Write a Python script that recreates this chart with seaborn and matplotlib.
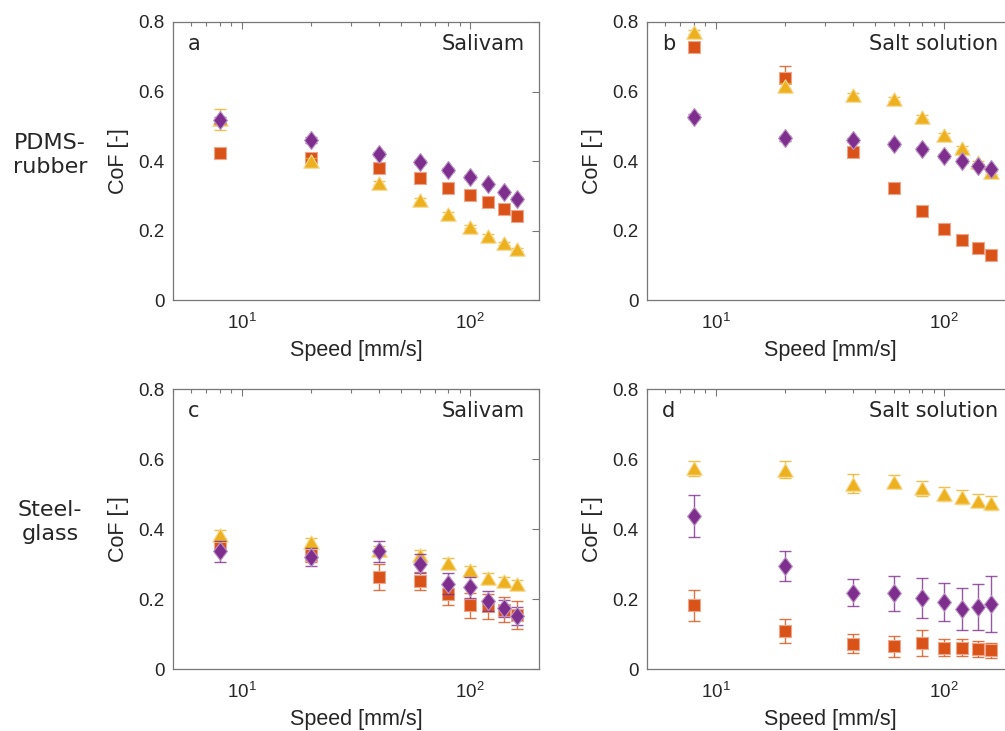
import numpy as np
import pandas as pd
import matplotlib
matplotlib.use("Agg")
import matplotlib.pyplot as plt
import seaborn as sns
from matplotlib.ticker import LogLocator, NullFormatter

sns.set_theme(style="white")
plt.rcParams['font.family'] = ['Liberation Sans', 'DejaVu Sans']
plt.rcParams['mathtext.fontset'] = 'custom'
plt.rcParams['mathtext.rm'] = 'Liberation Sans'

speed = [8, 20, 40, 60, 80, 100, 120, 140, 160]

# Panel a: PDMS-rubber, Salivam
a_sq = [0.424, 0.410, 0.379, 0.352, 0.323, 0.303, 0.283, 0.263, 0.242]
a_sq_err = [0.008, 0.008, 0.006, 0.006, 0.006, 0.005, 0.005, 0.005, 0.005]
a_tri = [0.520, 0.400, 0.336, 0.288, 0.247, 0.211, 0.184, 0.163, 0.146]
a_tri_err = [0.030, 0.008, 0.006, 0.006, 0.005, 0.005, 0.005, 0.005, 0.005]
a_dia = [0.518, 0.460, 0.420, 0.396, 0.374, 0.354, 0.333, 0.310, 0.290]
a_dia_err = [0.010, 0.008, 0.006, 0.006, 0.006, 0.005, 0.005, 0.005, 0.005]

# Panel b: PDMS-rubber, Salt solution
b_sq = [0.727, 0.640, 0.426, 0.323, 0.257, 0.205, 0.173, 0.149, 0.130]
b_sq_err = [0.008, 0.034, 0.008, 0.006, 0.006, 0.005, 0.005, 0.005, 0.005]
b_tri = [0.772, 0.616, 0.590, 0.578, 0.526, 0.475, 0.437, 0.396, 0.367]
b_tri_err = [0.006, 0.008, 0.006, 0.006, 0.006, 0.005, 0.005, 0.005, 0.005]
b_dia = [0.528, 0.465, 0.460, 0.448, 0.434, 0.415, 0.400, 0.387, 0.376]
b_dia_err = [0.008, 0.008, 0.006, 0.006, 0.006, 0.005, 0.005, 0.005, 0.005]

# Panel c: Steel-glass, Salivam
c_sq = [0.354, 0.325, 0.263, 0.251, 0.214, 0.182, 0.179, 0.170, 0.154]
c_sq_err = [0.020, 0.020, 0.037, 0.025, 0.032, 0.035, 0.035, 0.037, 0.040]
c_tri = [0.384, 0.363, 0.340, 0.327, 0.304, 0.282, 0.261, 0.252, 0.244]
c_tri_err = [0.012, 0.012, 0.012, 0.012, 0.012, 0.012, 0.012, 0.010, 0.010]
c_dia = [0.337, 0.320, 0.337, 0.301, 0.244, 0.233, 0.195, 0.173, 0.151]
c_dia_err = [0.030, 0.026, 0.030, 0.028, 0.030, 0.030, 0.028, 0.025, 0.025]

# Panel d: Steel-glass, Salt solution
d_sq = [0.182, 0.108, 0.072, 0.065, 0.075, 0.061, 0.061, 0.057, 0.053]
d_sq_err = [0.044, 0.034, 0.027, 0.030, 0.037, 0.025, 0.025, 0.023, 0.022]
d_tri = [0.573, 0.570, 0.530, 0.535, 0.516, 0.499, 0.492, 0.481, 0.475]
d_tri_err = [0.022, 0.024, 0.026, 0.019, 0.022, 0.020, 0.020, 0.019, 0.020]
d_dia = [0.437, 0.295, 0.218, 0.216, 0.203, 0.192, 0.171, 0.177, 0.187]
d_dia_err = [0.061, 0.043, 0.038, 0.050, 0.058, 0.055, 0.060, 0.065, 0.080]

panel_letters = ["a", "b", "c", "d"]
panel_titles = ["Salivam", "Salt solution", "Salivam", "Salt solution"]
row_labels = ["PDMS-\nrubber", "Steel-\nglass"]
y_ticks = [0, 0.2, 0.4, 0.6, 0.8]
y_ticklabels = ["0", "0.2", "0.4", "0.6", "0.8"]

colors = {"sq": "#D95319", "tri": "#EDB120", "dia": "#7E2F8E"}
edges = {"sq": "#F0A58A", "tri": "#F7D98E", "dia": "#BC93C4"}
diamond = [(0, 1), (0.76, 0), (0, -1), (-0.76, 0), (0, 1)]
triangle = [(0, 1), (1.15, -1), (-1.15, -1), (0, 1)]
markers = {"sq": "s", "tri": triangle, "dia": diamond}
sizes = {"sq": 85, "tri": 125, "dia": 170}

panels = [
    {"sq": (a_sq, a_sq_err), "tri": (a_tri, a_tri_err), "dia": (a_dia, a_dia_err)},
    {"sq": (b_sq, b_sq_err), "tri": (b_tri, b_tri_err), "dia": (b_dia, b_dia_err)},
    {"sq": (c_sq, c_sq_err), "tri": (c_tri, c_tri_err), "dia": (c_dia, c_dia_err)},
    {"sq": (d_sq, d_sq_err), "tri": (d_tri, d_tri_err), "dia": (d_dia, d_dia_err)},
]

W, H = 1005, 731
fig = plt.figure(figsize=(W / 100, H / 100), dpi=100)

ax_w = 366 / W
ax_h_top = 278 / H
ax_h_bot = 280 / H
positions = [
    (173 / W, 1 - 300 / H, ax_w, ax_h_top),
    (647 / W, 1 - 300 / H, ax_w, ax_h_top),
    (173 / W, 1 - 669 / H, ax_w, ax_h_bot),
    (647 / W, 1 - 669 / H, ax_w, ax_h_bot),
]

spine_col = "#777777"
text_col = "#262626"

for i, (pos, pdata) in enumerate(zip(positions, panels)):
    ax = fig.add_axes(pos)
    for z, key in enumerate(["sq", "tri", "dia"]):
        vals, errs = pdata[key]
        df = pd.DataFrame({"speed": speed, "cof": vals})
        ax.errorbar(speed, vals, yerr=errs, fmt="none", ecolor=colors[key],
                    elinewidth=1.0, capsize=4, capthick=1.0, alpha=0.8,
                    zorder=2 + 2 * z)
        sns.scatterplot(data=df, x="speed", y="cof", ax=ax, marker=markers[key],
                        s=sizes[key], color=colors[key], edgecolor=edges[key],
                        linewidth=0.8, legend=False, zorder=3 + 2 * z)
    ax.set_xscale("log")
    ax.set_xlim(5, 200)
    ax.set_ylim(0, 0.8)
    ax.set_yticks(y_ticks)
    ax.set_yticklabels(y_ticklabels)
    ax.xaxis.set_major_locator(LogLocator(base=10, numticks=10))
    ax.xaxis.set_minor_locator(LogLocator(base=10, subs=np.arange(2, 10), numticks=10))
    ax.xaxis.set_minor_formatter(NullFormatter())
    ax.tick_params(axis="both", which="both", direction="in", top=True, right=True,
                   colors=spine_col, labelcolor=text_col, labelsize=13.5)
    ax.tick_params(axis="both", which="major", length=5, width=0.8)
    ax.tick_params(axis="y", which="major", pad=6)
    ax.tick_params(axis="x", which="major", pad=9)
    ax.tick_params(axis="x", which="minor", length=3, width=0.8)
    for sp in ax.spines.values():
        sp.set_color(spine_col)
        sp.set_linewidth(0.9)
    ax.set_xlabel("Speed [mm/s]", fontsize=15.5, color=text_col, labelpad=5)
    ax.set_ylabel("CoF [-]", fontsize=15.5, color=text_col, labelpad=7)
    ax.text(0.04, 0.92, panel_letters[i], transform=ax.transAxes, fontsize=15,
            family="DejaVu Sans", color=text_col, ha="left", va="center")
    ax.text(0.96, 0.92, panel_titles[i], transform=ax.transAxes, fontsize=15,
            family="DejaVu Sans", color=text_col, ha="right", va="center")
    ax.grid(False)

fig.text(50 / W, 1 - 155 / H, row_labels[0], fontsize=16, color=text_col,
         family="DejaVu Sans", ha="center", va="center",
         multialignment="center", linespacing=1.25)
fig.text(50 / W, 1 - 522 / H, row_labels[1], fontsize=16, color=text_col,
         family="DejaVu Sans", ha="center", va="center",
         multialignment="center", linespacing=1.25)

fig.savefig("out.png", dpi=100)
